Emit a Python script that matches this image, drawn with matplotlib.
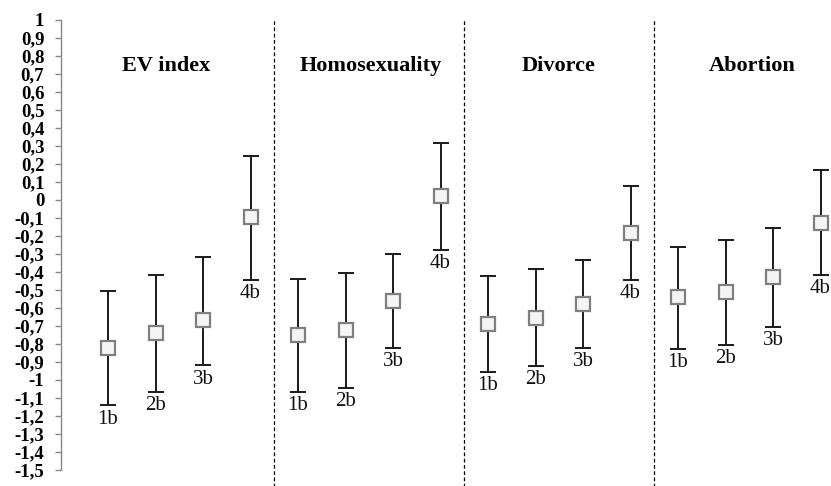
import matplotlib
matplotlib.use("Agg")
import matplotlib.pyplot as plt
import numpy as np

groups = ["EV index", "Homosexuality", "Divorce", "Abortion"]
point_labels = ["1b", "2b", "3b", "4b"]

ev_mean = [-0.82, -0.738, -0.667, -0.093]
ev_low = [-1.141, -1.065, -0.919, -0.444]
ev_high = [-0.503, -0.414, -0.314, 0.244]

homo_mean = [-0.748, -0.724, -0.560, 0.021]
homo_low = [-1.064, -1.046, -0.821, -0.278]
homo_high = [-0.438, -0.405, -0.298, 0.316]

div_mean = [-0.687, -0.656, -0.576, -0.182]
div_low = [-0.956, -0.923, -0.821, -0.444]
div_high = [-0.420, -0.383, -0.335, 0.076]

abo_mean = [-0.539, -0.512, -0.429, -0.127]
abo_low = [-0.827, -0.807, -0.707, -0.416]
abo_high = [-0.259, -0.222, -0.154, 0.165]

yticks = [1, 0.9, 0.8, 0.7, 0.6, 0.5, 0.4, 0.3, 0.2, 0.1, 0, -0.1, -0.2, -0.3, -0.4,
          -0.5, -0.6, -0.7, -0.8, -0.9, -1, -1.1, -1.2, -1.3, -1.4, -1.5]
ytick_labels = ["1", "0,9", "0,8", "0,7", "0,6", "0,5", "0,4", "0,3", "0,2", "0,1", "0",
                "-0,1", "-0,2", "-0,3", "-0,4", "-0,5", "-0,6", "-0,7", "-0,8", "-0,9",
                "-1", "-1,1", "-1,2", "-1,3", "-1,4", "-1,5"]

means = [ev_mean, homo_mean, div_mean, abo_mean]
lows = [ev_low, homo_low, div_low, abo_low]
highs = [ev_high, homo_high, div_high, abo_high]

# layout: horizontal shift of each panel title (in category units)
title_shift = [-0.27, 0.04, -0.02, 0.06]

serif = ["Liberation Serif", "DejaVu Serif"]

fig = plt.figure(figsize=(8.31, 4.86), dpi=100)
ax = fig.add_axes([61 / 831, 16 / 486, 770 / 831, 450 / 486])

for g in range(4):
    xs = np.arange(4) + 4 * g
    m = np.array(means[g])
    lo = np.array(lows[g])
    hi = np.array(highs[g])
    ax.errorbar(xs, m, yerr=[m - lo, hi - m], fmt="none", ecolor="#1a1a1a",
                elinewidth=1.4, capsize=5.5, capthick=1.4, zorder=2)
    ax.plot(xs, m, linestyle="none", marker="s", markersize=9.5,
            markerfacecolor="#f4f4f4", markeredgecolor="#7f7f7f",
            markeredgewidth=1.6, zorder=3)
    for i in range(4):
        ax.annotate(point_labels[i], (xs[i], lo[i]), xytext=(0, -3),
                    textcoords="offset points", ha="center", va="top",
                    fontsize=15, family=serif, color="#111111")
    ax.text(xs.mean() + title_shift[g], 0.718, groups[g], ha="center", va="baseline",
            fontsize=16, fontweight="bold", family=serif)
    if g > 0:
        ax.axvline(4 * g - 0.5, ymin=-0.04, ymax=1.0, color="black",
                   linestyle=(0, (3, 2)), linewidth=0.9, clip_on=False)

ax.set_xlim(-0.99, 15.22)
ax.set_ylim(-1.5, 1)
ax.set_yticks(yticks)
ax.set_yticklabels(ytick_labels, fontsize=13.5, fontweight="bold", family=serif)
ax.tick_params(axis="y", direction="out", length=4, width=1, color="#888888", pad=8)
ax.set_xticks([])
for s in ["top", "right", "bottom"]:
    ax.spines[s].set_visible(False)
ax.spines["left"].set_color("#888888")
ax.spines["left"].set_linewidth(1)

fig.savefig("out.png", dpi=100)
